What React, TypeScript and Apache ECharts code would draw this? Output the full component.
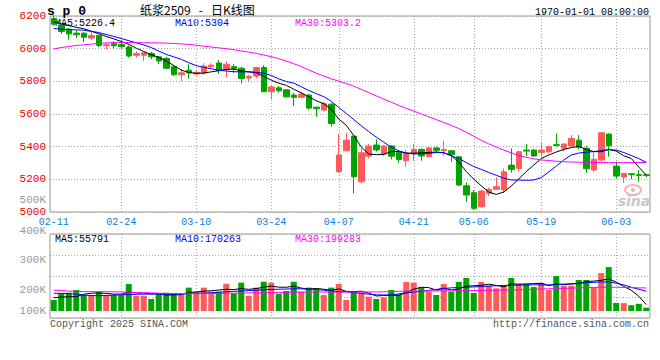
import React, { useEffect, useRef } from 'react';
import * as echarts from 'echarts';

const dates = ['02-11','02-12','02-13','02-14','02-17','02-18','02-19','02-20','02-21','02-24','02-25','02-26','02-27','02-28','03-03','03-04','03-05','03-06','03-07','03-10','03-11','03-12','03-13','03-14','03-17','03-18','03-19','03-20','03-21','03-24','03-25','03-26','03-27','03-28','03-31','04-01','04-02','04-03','04-07','04-08','04-09','04-10','04-11','04-14','04-15','04-16','04-17','04-18','04-21','04-22','04-23','04-24','04-25','04-28','04-29','04-30','05-06','05-07','05-08','05-09','05-12','05-13','05-14','05-15','05-16','05-19','05-20','05-21','05-22','05-23','05-26','05-27','05-28','05-29','05-30','06-03','06-04','06-05','06-06','06-09'];
const tickLabels = ['02-11','02-24','03-10','03-24','04-07','04-21','05-06','05-19','06-03'];

const openP = [6185,6145,6120,6095,6095,6065,6080,6018,6030,6025,6010,5960,5960,5970,5950,5940,5890,5840,5868,5845,5850,5889,5912,5873,5890,5880,5820,5832,5885,5736,5760,5748,5716,5702,5716,5642,5624,5660,5247,5375,5465,5185,5342,5410,5355,5404,5363,5314,5359,5383,5340,5392,5375,5375,5338,5161,5118,5032,5114,5139,5135,5287,5267,5379,5379,5365,5369,5412,5390,5404,5440,5390,5257,5318,5477,5281,5214,5234,5228,5228];
const closeP = [6150,6105,6090,6085,6070,6080,6020,6024,6018,6013,5955,5970,5975,5950,5925,5880,5840,5852,5852,5855,5893,5899,5866,5905,5880,5818,5830,5885,5736,5766,5742,5705,5702,5722,5636,5632,5665,5542,5349,5440,5216,5363,5404,5380,5404,5342,5322,5359,5383,5343,5392,5378,5382,5350,5165,5104,5023,5128,5139,5155,5246,5261,5369,5373,5343,5379,5400,5408,5416,5451,5396,5265,5322,5485,5405,5220,5236,5228,5224,5224];
const lowP = [6140,6090,6055,6065,6040,6050,6010,5995,6000,6000,5945,5945,5925,5935,5905,5875,5835,5801,5818,5836,5840,5880,5845,5822,5852,5787,5801,5818,5736,5690,5730,5700,5650,5697,5625,5583,5615,5522,5240,5370,5114,5175,5328,5370,5342,5322,5302,5277,5314,5314,5335,5363,5342,5308,5160,5063,5012,5028,5098,5135,5118,5240,5246,5342,5338,5338,5360,5400,5370,5400,5383,5240,5246,5308,5338,5206,5179,5200,5185,5212];
const highP = [6205,6150,6125,6112,6100,6105,6085,6035,6045,6050,6020,5985,5980,5980,5955,5950,5895,5873,5905,5865,5911,5910,5930,5923,5905,5889,5840,5889,5899,5777,5772,5752,5730,5737,5722,5645,5675,5668,5477,5485,5468,5390,5416,5445,5410,5410,5380,5380,5416,5390,5400,5400,5436,5379,5340,5180,5135,5135,5151,5212,5267,5390,5375,5416,5385,5424,5405,5481,5420,5471,5471,5404,5369,5491,5481,5308,5240,5236,5257,5232];
const volume = [95000,153000,158000,181000,138000,138000,167000,138000,138000,138000,233000,132000,132000,104000,153000,158000,153000,138000,202000,167000,202000,167000,167000,236000,153000,245000,132000,202000,253000,245000,150000,173000,253000,167000,202000,181000,138000,202000,233000,95000,167000,158000,124000,104000,118000,181000,144000,251000,245000,202000,167000,138000,233000,167000,251000,285000,156000,251000,219000,196000,225000,285000,233000,233000,207000,242000,181000,302000,219000,219000,268000,268000,202000,328000,380000,70000,68000,50000,62000,29000];

const ma5 = [6163,6152,6141,6131,6122,6107,6091,6075,6060,6044,6027,6003,5983,5963,5947,5924,5897,5869,5854,5849,5851,5858,5865,5873,5875,5864,5858,5853,5831,5807,5789,5775,5752,5729,5705,5681,5663,5630,5569,5531,5468,5398,5355,5351,5353,5370,5370,5361,5360,5362,5365,5367,5363,5346,5306,5248,5201,5160,5122,5108,5122,5159,5202,5248,5287,5327,5349,5367,5383,5394,5402,5383,5370,5369,5383,5373,5344,5328,5275,5226.4];
const ma10 = [6123,6120,6117,6115,6113,6106,6099,6087,6075,6062,6049,6036,6023,6007,5985,5965,5950,5935,5914,5896,5886,5877,5868,5863,5859,5858,5858,5855,5850,5836,5815,5799,5789,5767,5744,5725,5706,5678,5640,5604,5566,5528,5492,5459,5427,5397,5374,5361,5355,5357,5359,5364,5363,5344,5327,5303,5278,5261,5242,5225,5207,5196,5196,5194,5196,5211,5245,5281,5318,5349,5361,5366,5370,5376,5382,5379,5364,5346,5327,5304];
const ma30 = [5998,6007,6013,6020,6023,6028,6032,6035,6037,6037,6037,6037,6036,6036,6035,6034,6032,6029,6026,6021,6015,6010,6005,6000,5994,5986,5979,5971,5961,5951,5939,5924,5908,5890,5870,5850,5832,5816,5801,5786,5771,5751,5731,5711,5691,5672,5653,5634,5618,5601,5583,5566,5548,5530,5511,5488,5464,5439,5417,5398,5379,5362,5346,5335,5326,5319,5315,5311,5308,5306,5305,5304,5303,5303,5302,5302,5302,5303,5303,5303.2];

const volMa5 = [115000,120000,124000,124000,145000,154000,156000,152000,146000,146000,163000,156000,155000,148000,151000,136000,140000,141000,161000,164000,172000,175000,181000,188000,185000,194000,187000,194000,205000,215000,206000,205000,215000,198000,189000,195000,188000,178000,191000,170000,167000,171000,155000,130000,134000,137000,134000,160000,188000,205000,202000,181000,197000,181000,191000,215000,218000,222000,232000,221000,209000,235000,232000,234000,237000,240000,219000,233000,229000,233000,238000,255000,258000,265000,277000,250000,212000,179000,128000,55791];
const volMa10 = [153000,153000,150000,145000,138000,134000,132000,134000,138000,140000,142000,144000,146000,146000,146000,145000,145000,146000,150000,153000,155000,158000,162000,166000,170000,173000,176000,180000,184000,187000,188000,190000,192000,192000,190000,186000,180000,172000,168000,165000,160000,152000,145000,140000,138000,140000,148000,156000,164000,170000,178000,186000,195000,200000,203000,205000,208000,212000,215000,218000,220000,222000,224000,225000,226000,226000,226000,228000,232000,236000,240000,244000,248000,250000,252000,240000,225000,205000,188000,170263];
const volMa30 = [180000,176000,172000,170000,168000,167000,167000,167000,166000,165000,162000,160000,158000,156000,154000,152000,151000,150000,150000,150000,150000,151000,152000,153000,154000,155000,156000,157000,158000,159000,160000,161000,162000,163000,163000,164000,164000,164000,164000,164000,164000,164000,164000,165000,166000,168000,170000,171000,172000,173000,173000,174000,174000,174000,175000,176000,177000,178000,179000,180000,181000,182000,183000,185000,187000,190000,192000,194000,196000,198000,200000,202000,204000,205000,206000,205000,203000,202000,200000,199283];

const volAxisLabels = ['500K', '400K', '300K', '200K', '100K'];

const RED = '#ff5a5a';
const GREEN = '#00a400';
const MONO = '"Liberation Mono", "DejaVu Sans Mono", monospace';
const GRIDC = '#a8a8a8';
const NB = '\u00a0';

export default function App() {
  const ref = useRef<HTMLDivElement>(null);
  useEffect(() => {
    document.body.style.margin = '0';
    const chart = echarts.init(ref.current as HTMLDivElement, null, { renderer: 'svg' });
    const last = (a: number[]) => a[a.length - 1];
    const isTick = (i: number) => tickLabels.indexOf(dates[i]) >= 0;
    const txt = (text: string, x: number, y: number, fill: string, font: string, align = 'left') => ({
      type: 'text', x, y, silent: true,
      style: { text, fill, font, align, textAlign: align, verticalAlign: 'middle', textVerticalAlign: 'middle' },
    });
    const dotted = { color: GRIDC, type: [1, 2] as any, width: 1 };
    const volLabelY = [200, 231, 260, 290, 311];

    const option: any = {
      animation: false,
      backgroundColor: '#ffffff',
      grid: [
        { left: 50, top: 16, width: 600, height: 196, show: true, borderColor: '#999', borderWidth: 1, backgroundColor: 'transparent' },
        { left: 50, top: 234, width: 600, height: 84, show: true, borderColor: '#999', borderWidth: 1, backgroundColor: 'transparent' },
      ],
      xAxis: [
        {
          type: 'category', gridIndex: 0, data: dates, boundaryGap: true,
          axisLine: { show: false }, axisTick: { show: false },
          axisLabel: { interval: (i: number) => isTick(i), color: '#0a80dc', fontFamily: MONO, fontSize: 10, margin: 5 },
          splitLine: { show: true, interval: (i: number) => isTick(i) && i > 0, alignWithLabel: true, lineStyle: dotted },
        },
        {
          type: 'category', gridIndex: 1, data: dates, boundaryGap: true,
          axisLine: { show: false }, axisTick: { show: false }, axisLabel: { show: false },
          splitLine: { show: true, interval: (i: number) => isTick(i) && i > 0, alignWithLabel: true, lineStyle: dotted },
        },
      ],
      yAxis: [
        {
          type: 'value', gridIndex: 0, min: 5000, max: 6200, interval: 200,
          axisLine: { show: false }, axisTick: { show: false },
          axisLabel: { color: '#ee0000', fontFamily: MONO, fontSize: 11, margin: 4, formatter: (v: number) => String(v) },
          splitLine: { show: true, lineStyle: dotted },
        },
        {
          type: 'value', gridIndex: 1, min: -60500, max: 665500,
          axisLine: { show: false }, axisTick: { show: false }, axisLabel: { show: false }, splitLine: { show: false },
        },
        {
          type: 'value', gridIndex: 1, min: 0, max: 4, interval: 1, position: 'right',
          axisLine: { show: false }, axisTick: { show: false }, axisLabel: { show: false },
          splitLine: { show: true, lineStyle: dotted },
        },
      ],
      series: [
        {
          type: 'candlestick', xAxisIndex: 0, yAxisIndex: 0, barWidth: 6,
          data: dates.map((_, i) => [openP[i], closeP[i], lowP[i], highP[i]]),
          itemStyle: { color: RED, color0: GREEN, borderColor: RED, borderColor0: GREEN, borderWidth: 1 },
        },
        { type: 'line', xAxisIndex: 0, yAxisIndex: 0, data: ma5, symbol: 'none', lineStyle: { color: '#000000', width: 1 } },
        { type: 'line', xAxisIndex: 0, yAxisIndex: 0, data: ma10, symbol: 'none', lineStyle: { color: '#0000ff', width: 1 } },
        { type: 'line', xAxisIndex: 0, yAxisIndex: 0, data: ma30, symbol: 'none', lineStyle: { color: '#ff00ff', width: 1 } },
        {
          type: 'bar', xAxisIndex: 1, yAxisIndex: 1, barWidth: 6,
          data: volume.map((v, i) => ({ value: v, itemStyle: { color: closeP[i] >= openP[i] ? RED : GREEN } })),
        },
        { type: 'line', xAxisIndex: 1, yAxisIndex: 1, data: volMa5, symbol: 'none', lineStyle: { color: '#000000', width: 1 } },
        { type: 'line', xAxisIndex: 1, yAxisIndex: 1, data: volMa10, symbol: 'none', lineStyle: { color: '#0000ff', width: 1 } },
        { type: 'line', xAxisIndex: 1, yAxisIndex: 1, data: volMa30, symbol: 'none', lineStyle: { color: '#ff00ff', width: 1 } },
      ],
      graphic: [
        txt('s p 0', 47, 11, '#000', `bold 13px ${MONO}`),
        txt(`纸浆2509${NB}${NB}${NB}-${NB}${NB}${NB}日K线图`, 140, 9, '#000', '12px "Noto Sans CJK SC", sans-serif'),
        txt('1970-01-01 08:00:00', 649, 12, '#000', `10px ${MONO}`, 'right'),
        txt(`MA5:${last(ma5)}`, 55, 23, '#000', `10px ${MONO}`),
        txt(`MA10:${last(ma10)}`, 175, 23, '#0000ee', `10px ${MONO}`),
        txt(`MA30:${last(ma30)}`, 295, 23, '#ff00ff', `10px ${MONO}`),
        txt(`MA5:${last(volMa5)}`, 55, 239, '#000', `10px ${MONO}`),
        txt(`MA10:${last(volMa10)}`, 175, 239, '#0000ee', `10px ${MONO}`),
        txt(`MA30:${last(volMa30)}`, 295, 239, '#ff00ff', `10px ${MONO}`),
        ...volAxisLabels.map((t, k) => txt(t, 46, volLabelY[k], '#999999', `11px ${MONO}`, 'right')),
        txt('Copyright 2025 SINA.COM', 50, 324, '#555555', `10px ${MONO}`),
        txt('http://finance.sina.com.cn', 649, 324, '#555555', `10px ${MONO}`, 'right'),
        { type: 'ellipse', silent: true, shape: { cx: 633, cy: 190, rx: 8, ry: 5 }, style: { fill: 'none', stroke: '#f5b0b0', lineWidth: 2 } },
        { type: 'circle', silent: true, shape: { cx: 633, cy: 190, r: 2 }, style: { fill: '#f5b0b0' } },
        txt('sina', 634, 201, '#c8c8c8', `italic bold 14px "DejaVu Sans", sans-serif`, 'center'),
      ],
    };
    chart.setOption(option);
    return () => chart.dispose();
  }, []);
  return <div ref={ref} style={{ width: 660, height: 360 }} />;
}
